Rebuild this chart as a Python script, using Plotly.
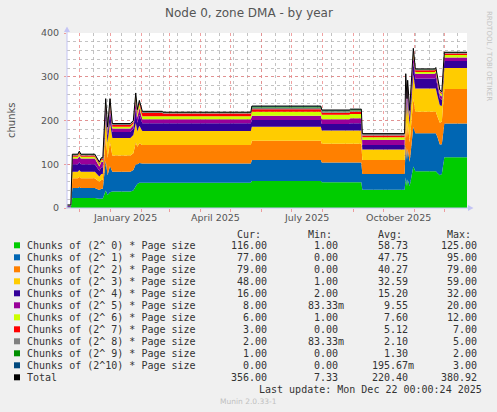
import numpy as np
import pandas as pd
import plotly.graph_objects as go

# breakpoints of the yearly buddyinfo series (Node 0, zone DMA)
dates = [
    "2024-11-18 16:00", "2024-11-22 12:00", "2024-11-24 00:00", "2024-11-29 12:00", "2024-12-01 00:00",
    "2024-12-02 12:00", "2024-12-16 12:00", "2024-12-21 00:00", "2024-12-23 00:00", "2024-12-24 12:00",
    "2024-12-27 09:00", "2024-12-29 06:00", "2024-12-31 16:00", "2025-01-03 00:00", "2025-01-21 00:00",
    "2025-01-24 00:00", "2025-01-26 10:00", "2025-01-28 00:00", "2025-01-30 00:00", "2025-02-02 00:00",
    "2025-02-22 00:00", "2025-02-23 00:00", "2025-05-21 12:00", "2025-05-22 12:00", "2025-07-30 12:00",
    "2025-07-31 12:00", "2025-08-28 00:00", "2025-08-29 00:00", "2025-09-09 00:00", "2025-09-10 00:00",
    "2025-10-22 06:00", "2025-10-23 10:00", "2025-10-24 16:00", "2025-10-25 08:00", "2025-10-27 08:00",
    "2025-10-31 00:00", "2025-11-02 00:00", "2025-11-21 12:00", "2025-11-22 12:00", "2025-11-24 00:00",
    "2025-11-26 12:00", "2025-11-28 12:00", "2025-12-01 00:00", "2025-12-23 16:00",
]

chunks_0 = [1, 1, 23, 23, 24, 23, 23, 21, 22, 22, 40, 30, 36, 38, 38, 40, 50, 55, 58, 58, 58, 58,
            58, 62, 62, 59, 59, 59, 59, 42, 42, 70, 50, 65, 50, 95, 84, 84, 84, 80, 75, 78, 116, 116]
chunks_1 = [0, 0, 23, 23, 24, 23, 23, 20, 22, 22, 68, 45, 60, 45, 45, 47, 50, 45, 45, 44, 44, 44,
            44, 48, 48, 45, 45, 45, 45, 36, 36, 75, 60, 70, 55, 90, 87, 87, 87, 83, 70, 68, 77, 77]
chunks_2 = [0, 0, 22, 22, 23, 22, 22, 19, 20, 20, 55, 40, 55, 37, 37, 38, 50, 40, 45, 42, 42, 42,
            42, 44, 44, 43, 43, 43, 43, 32, 32, 60, 50, 60, 45, 65, 49, 49, 49, 47, 50, 52, 79, 79]
chunks_3 = [1, 1, 15, 15, 16, 15, 15, 12, 14, 14, 42, 35, 45, 40, 40, 42, 45, 35, 40, 32, 32, 32,
            32, 32, 32, 30, 30, 30, 30, 24, 24, 50, 45, 50, 40, 55, 53, 53, 53, 48, 40, 35, 48, 48]
chunks_4 = [2, 2, 17, 17, 18, 17, 17, 13, 15, 15, 20, 15, 24, 14, 14, 14, 32, 20, 25, 18, 18, 18,
            18, 15, 15, 15, 15, 17, 17, 10, 10, 22, 20, 22, 15, 28, 23, 23, 25, 22, 16, 14, 16, 16]
chunks_5 = [1, 1, 13, 13, 14, 13, 13, 10, 12, 12, 10, 8, 12, 8, 8, 8, 20, 12, 16, 9, 9, 9,
            9, 10, 10, 11, 11, 11, 11, 12, 12, 12, 12, 12, 8, 15, 11, 11, 12, 10, 8, 8, 8, 8]
chunks_6 = [1, 1, 4, 4, 5, 4, 4, 4, 4, 4, 6, 5, 6, 4, 4, 4, 8, 8, 8, 7, 7, 7,
            7, 9, 9, 10, 10, 10, 10, 6, 6, 8, 6, 6, 4, 7, 4, 4, 4, 4, 5, 5, 6, 6]
chunks_7 = [0, 0, 3, 3, 3, 3, 3, 3, 3, 3, 4, 3, 5, 4, 4, 4, 4, 5, 5, 7, 7, 6,
            6, 6, 6, 5, 5, 5, 5, 4, 4, 5, 4, 4, 3, 5, 4, 4, 4, 4, 3, 3, 3, 3]
chunks_8 = [1, 1, 2, 2, 2, 2, 2, 2, 2, 2, 3, 2, 4, 2, 2, 2, 3, 3, 3, 3, 3, 2,
            2, 4, 4, 3, 3, 3, 3, 3, 3, 3, 2, 2, 2, 3, 2, 2, 2, 2, 2, 2, 2, 2]
chunks_9 = [0, 0, 1, 1, 1, 1, 1, 1, 1, 1, 1, 1, 2, 1, 1, 1, 1, 2, 1, 1, 1, 1,
            1, 2, 2, 2, 2, 2, 2, 1, 1, 1, 1, 1, 1, 2, 1, 1, 1, 1, 1, 1, 1, 1]
chunks_10 = [0, 0, 0, 0, 0, 0, 0, 0, 0, 0, 1, 1, 1, 0, 0, 0, 0, 0, 0, 0, 0, 0,
             0, 1, 1, 1, 1, 1, 1, 0, 0, 1, 0, 0, 0, 0, 0, 0, 0, 0, 0, 0, 0, 0]

labels = [
    "Chunks of (2^ 0) * Page size", "Chunks of (2^ 1) * Page size", "Chunks of (2^ 2) * Page size",
    "Chunks of (2^ 3) * Page size", "Chunks of (2^ 4) * Page size", "Chunks of (2^ 5) * Page size",
    "Chunks of (2^ 6) * Page size", "Chunks of (2^ 7) * Page size", "Chunks of (2^ 8) * Page size",
    "Chunks of (2^ 9) * Page size", "Chunks of (2^10) * Page size", "Total",
]
colors = ["#00CC00", "#0066B3", "#FF8000", "#FFCC00", "#330099", "#990099",
          "#CCFF00", "#FF0000", "#808080", "#008F00", "#00487D", "#000000"]

# legend statistics as printed under the graph
cur_vals = ["116.00", "77.00", "79.00", "48.00", "16.00", "8.00", "6.00", "3.00", "2.00", "1.00", "0.00", "356.00"]
min_vals = ["1.00", "0.00", "0.00", "1.00", "2.00", "83.33m", "1.00", "0.00", "83.33m", "0.00", "0.00", "7.33"]
avg_vals = ["58.73", "47.75", "40.27", "32.59", "15.20", "9.55", "7.60", "5.12", "2.10", "1.30", "195.67m", "220.40"]
max_vals = ["125.00", "95.00", "79.00", "59.00", "32.00", "20.00", "12.00", "7.00", "5.00", "2.00", "3.00", "380.92"]

month_starts = pd.date_range("2024-12-01", "2025-12-01", freq="MS")
label_dates = ["2025-01-16", "2025-04-16", "2025-07-16", "2025-10-16"]
label_text = ["January 2025", "April 2025", "July 2025", "October 2025"]
x_start, x_end = "2024-11-18 16:00", "2025-12-23 16:00"

W, H = 497, 412
L, R, T, B = 67, 467, 33, 208


def px(x):
    return (x - L) / (R - L)


def py(y):
    return (B - y) / (B - T)


def nb(s):
    return s.replace(" ", "\u00a0")


series = [chunks_0, chunks_1, chunks_2, chunks_3, chunks_4, chunks_5,
          chunks_6, chunks_7, chunks_8, chunks_9, chunks_10]
total = np.sum(np.array(series), axis=0)

fig = go.Figure()
for vals, col, name in zip(series, colors, labels):
    fig.add_trace(go.Scatter(x=dates, y=vals, name=name, stackgroup="one", mode="lines",
                             line=dict(width=0, color=col), fillcolor=col))
fig.add_trace(go.Scatter(x=dates, y=total, name="Total", mode="lines",
                         line=dict(color="black", width=1)))

grid_red = "rgba(235,130,130,0.75)"
grid_gray = "rgba(175,175,175,0.75)"
axis_col = "#C4C4F4"
txt = "#555555"
mono = "DejaVu Sans Mono"

fig.update_layout(
    width=W, height=H,
    margin=dict(l=L, r=W - R, t=T, b=H - B),
    paper_bgcolor="#F0F0F0", plot_bgcolor="white",
    showlegend=False, hovermode=False,
    font=dict(family="DejaVu Sans", color=txt),
    xaxis=dict(type="date", range=[x_start, x_end], tickvals=month_starts, showticklabels=False,
               showgrid=True, gridcolor=grid_red, griddash="dot", gridwidth=1,
               ticks="outside", ticklen=3, tickcolor=grid_red, showline=False, zeroline=False,
               minor=dict(tickvals=pd.date_range("2024-12-15", "2025-12-23", freq="14D"),
                          showgrid=True, gridcolor=grid_gray, griddash="dot", ticks="")),
    yaxis=dict(range=[0, 400], tickvals=[0, 100, 200, 300, 400], showgrid=True,
               gridcolor=grid_red, griddash="dot", ticks="outside", ticklen=2, tickcolor=grid_red,
               ticklabelstandoff=3, tickfont=dict(size=9.5, color=txt), showline=False, zeroline=False,
               minor=dict(dtick=20, showgrid=True, gridcolor=grid_gray, griddash="dot", ticks="")),
)

ann = []
ann.append(dict(text="Node 0, zone DMA - by year", x=px(248.5), y=py(13), font=dict(size=12, color=txt),
                xanchor="center", yanchor="middle"))
ann.append(dict(text="chunks", x=px(11), y=py(120), textangle=-90, font=dict(size=10, color=txt),
                xanchor="center", yanchor="middle"))
ann.append(dict(text="RRDTOOL / TOBI OETIKER", x=px(489), y=py(56), textangle=90,
                font=dict(size=7, color="#C4C4C4"), xanchor="center", yanchor="middle"))
for d, t in zip(label_dates, label_text):
    ann.append(dict(text=t, x=d, xref="x", y=py(217.5), font=dict(size=9.5, color=txt),
                    xanchor="center", yanchor="middle"))

col_x = [229.5, 300.5, 370.7, 440.0]
for hx, h in zip(col_x, ["Cur:", "Min:", "Avg:", "Max:"]):
    ann.append(dict(text=h, x=px(hx + 6), y=py(234), font=dict(family=mono, size=10, color="#333"),
                    xanchor="left", yanchor="middle"))

shapes = []
for i, name in enumerate(labels):
    yc = 245.3 + 12 * i
    shapes.append(dict(type="rect", xref="paper", yref="paper", x0=px(14), x1=px(20),
                       y0=py(yc + 3), y1=py(yc - 3), fillcolor=colors[i], line=dict(width=0)))
    ann.append(dict(text=nb(name), x=px(26), y=py(yc), font=dict(family=mono, size=10, color="#333"),
                    xanchor="left", yanchor="middle"))
    for cx, v in zip(col_x, [cur_vals[i], min_vals[i], avg_vals[i], max_vals[i]]):
        num, suf = (v[:-1], v[-1]) if v.endswith("m") else (v, "")
        ann.append(dict(text=nb(num.rjust(6) + suf), x=px(cx), y=py(yc),
                        font=dict(family=mono, size=10, color="#333"), xanchor="left", yanchor="middle"))

ann.append(dict(text=nb("Last update: Mon Dec 22 00:00:24 2025"), x=px(483), y=py(389.7),
                font=dict(family=mono, size=10, color="#333"), xanchor="right", yanchor="middle"))
ann.append(dict(text="Munin 2.0.33-1", x=px(248.5), y=py(401.7), font=dict(size=7.5, color="#C0C0C0"),
                xanchor="center", yanchor="middle"))

for a in ann:
    a.setdefault("xref", "paper")
    a["yref"] = "paper"
    a["showarrow"] = False
    a["borderpad"] = 0

# axis lines with the little rrdtool arrow heads
shapes += [
    dict(type="line", xref="paper", yref="paper", x0=px(67), x1=px(67), y0=py(208.5), y1=py(31),
         line=dict(color=axis_col, width=1)),
    dict(type="line", xref="paper", yref="paper", x0=px(66), x1=px(469), y0=py(208), y1=py(208),
         line=dict(color=axis_col, width=1)),
    dict(type="path", xref="paper", yref="paper", fillcolor=axis_col, line=dict(width=0),
         path=f"M {px(64)} {py(32)} L {px(70)} {py(32)} L {px(67)} {py(26.5)} Z"),
    dict(type="path", xref="paper", yref="paper", fillcolor=axis_col, line=dict(width=0),
         path=f"M {px(468)} {py(205)} L {px(468)} {py(211)} L {px(473.5)} {py(208)} Z"),
]

fig.update_layout(annotations=ann, shapes=shapes)
# page body margin would push the 497x412 figure off the window
fig.write_html("out.html", config={"displayModeBar": False},
               post_script="document.body.style.margin='0';document.body.style.overflow='hidden';"
                           "document.body.style.background='#F0F0F0';")
